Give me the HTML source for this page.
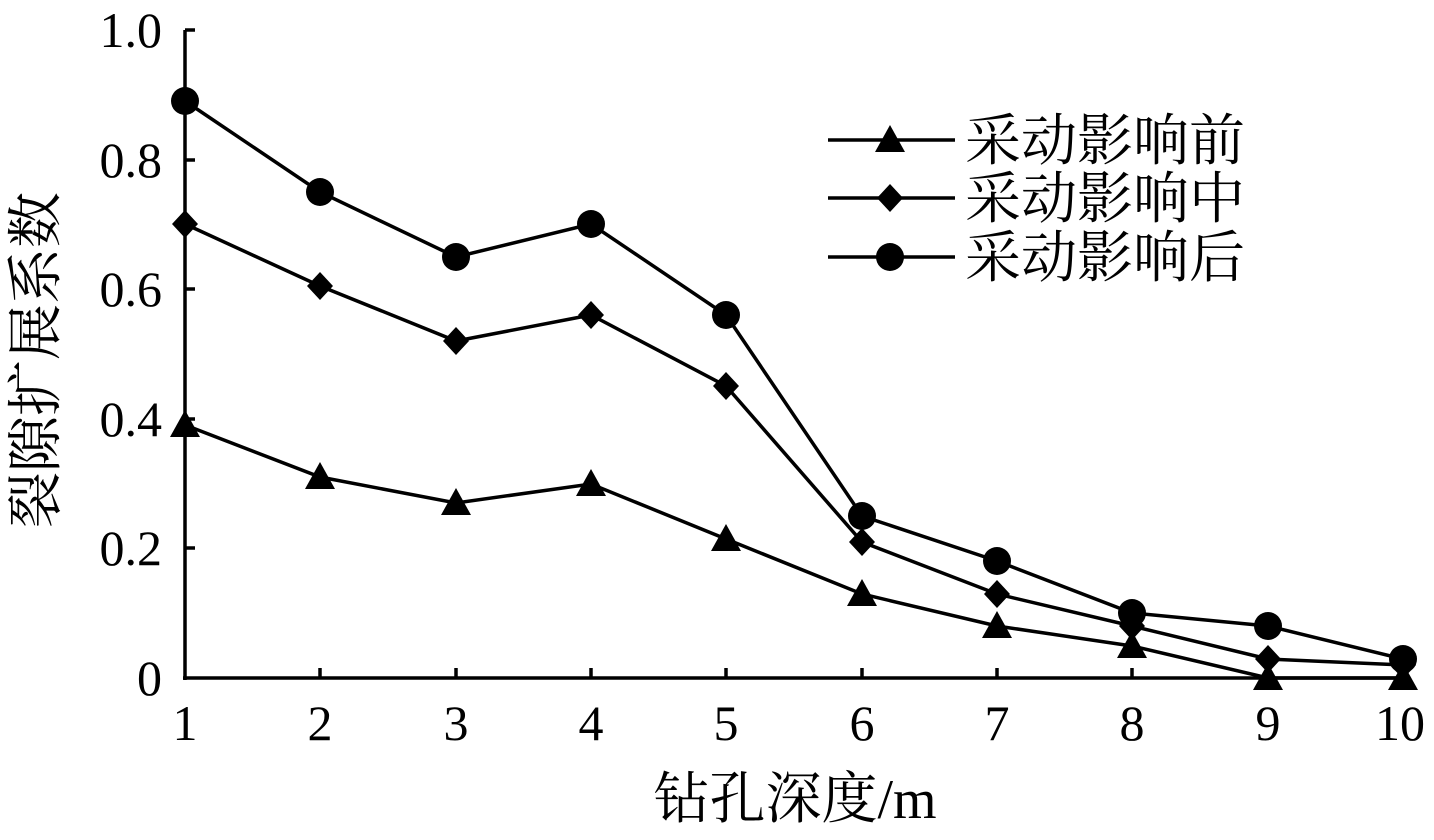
<!DOCTYPE html>
<html><head><meta charset="utf-8"><style>
html,body{margin:0;padding:0;background:#fff;}
svg text{font-family:"Liberation Serif","Noto Serif CJK SC",serif;fill:#000;}
</style></head><body>
<svg width="1434" height="835" viewBox="0 0 1434 835" xmlns="http://www.w3.org/2000/svg">
<defs>
<polygon id="tri" points="0,-15 15,12 -15,12" fill="#000"/>
<polygon id="dia" points="0,-14 13,0 0,14 -13,0" fill="#000"/>
<circle id="cir" r="14" fill="#000"/>
</defs>
<g stroke="#000" stroke-width="3.5" fill="none">
<line x1="185" y1="30" x2="185" y2="680"/>
<line x1="183" y1="678" x2="1404" y2="678"/>
<line x1="185" y1="30" x2="195" y2="30"/>
<line x1="185" y1="160" x2="195" y2="160"/>
<line x1="185" y1="289" x2="195" y2="289"/>
<line x1="185" y1="419" x2="195" y2="419"/>
<line x1="185" y1="548" x2="195" y2="548"/>
<line x1="320" y1="678" x2="320" y2="668"/>
<line x1="456" y1="678" x2="456" y2="668"/>
<line x1="591" y1="678" x2="591" y2="668"/>
<line x1="726" y1="678" x2="726" y2="668"/>
<line x1="862" y1="678" x2="862" y2="668"/>
<line x1="997" y1="678" x2="997" y2="668"/>
<line x1="1132" y1="678" x2="1132" y2="668"/>
<line x1="1268" y1="678" x2="1268" y2="668"/>
<line x1="1403" y1="678" x2="1403" y2="668"/>
<polyline points="185,425 320,477 456,503 591,484 726,539 862,594 997,626 1132,646 1268,678 1403,678"/>
<polyline points="185,224 320,286 456,341 591,315 726,386 862,542 997,594 1132,626 1268,659 1403,665"/>
<polyline points="185,101 320,192 456,257 591,224 726,315 862,516 997,561 1132,613 1268,626 1403,659"/>
<line x1="828" y1="140" x2="955" y2="140"/>
<line x1="828" y1="198" x2="955" y2="198"/>
<line x1="828" y1="257" x2="955" y2="257"/>
</g>
<g>
<use href="#tri" x="185" y="425"/><use href="#tri" x="320" y="477"/><use href="#tri" x="456" y="503"/><use href="#tri" x="591" y="484"/><use href="#tri" x="726" y="539"/><use href="#tri" x="862" y="594"/><use href="#tri" x="997" y="626"/><use href="#tri" x="1132" y="646"/><use href="#tri" x="1268" y="678"/><use href="#tri" x="1403" y="678"/>
<use href="#dia" x="185" y="224"/><use href="#dia" x="320" y="286"/><use href="#dia" x="456" y="341"/><use href="#dia" x="591" y="315"/><use href="#dia" x="726" y="386"/><use href="#dia" x="862" y="542"/><use href="#dia" x="997" y="594"/><use href="#dia" x="1132" y="626"/><use href="#dia" x="1268" y="659"/><use href="#dia" x="1403" y="665"/>
<use href="#cir" x="185" y="101"/><use href="#cir" x="320" y="192"/><use href="#cir" x="456" y="257"/><use href="#cir" x="591" y="224"/><use href="#cir" x="726" y="315"/><use href="#cir" x="862" y="516"/><use href="#cir" x="997" y="561"/><use href="#cir" x="1132" y="613"/><use href="#cir" x="1268" y="626"/><use href="#cir" x="1403" y="659"/>
<use href="#tri" x="890" y="140"/><use href="#dia" x="890" y="198"/><use href="#cir" x="890" y="257"/>
</g>
<g font-size="50" text-anchor="end">
<text x="162" y="47">1.0</text>
<text x="162" y="177">0.8</text>
<text x="162" y="306">0.6</text>
<text x="162" y="436">0.4</text>
<text x="162" y="565">0.2</text>
<text x="162" y="695">0</text>
</g>
<g font-size="50" text-anchor="middle">
<text x="185" y="740">1</text><text x="320" y="740">2</text><text x="456" y="740">3</text><text x="591" y="740">4</text><text x="726" y="740">5</text><text x="862" y="740">6</text><text x="997" y="740">7</text><text x="1132" y="740">8</text><text x="1268" y="740">9</text><text x="1400" y="740">10</text>
</g>
<g font-size="56" text-anchor="middle">
<text x="795" y="818">钻孔深度/m</text>
<text transform="translate(55,360) rotate(-90)">裂隙扩展系数</text>
</g>
<g font-size="56">
<text x="965" y="160">采动影响前</text>
<text x="965" y="218">采动影响中</text>
<text x="965" y="277">采动影响后</text>
</g>
</svg>
</body></html>
